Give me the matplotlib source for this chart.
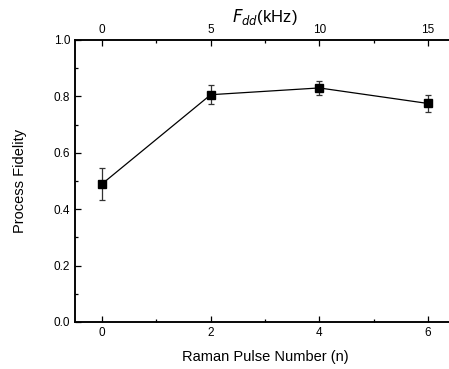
import matplotlib
matplotlib.use("Agg")
import matplotlib.pyplot as plt
from matplotlib.ticker import MultipleLocator

plt.rcParams['font.family'] = ['Liberation Sans', 'DejaVu Sans']

pulse_number = [0, 2, 4, 6]
fidelity = [0.49, 0.806, 0.83, 0.775]
fidelity_err = [0.056, 0.034, 0.026, 0.030]
top_ticks = [0, 5, 10, 15]

fig = plt.figure(figsize=(4.49, 3.69), dpi=100)
ax = fig.add_axes([75/449, 1-322/369, (455-75)/449, (322-40)/369])

ax.errorbar(pulse_number, fidelity, yerr=fidelity_err, color='black', lw=0.9,
            marker='s', ms=5.5, capsize=2.5, elinewidth=0.9, capthick=0.9,
            ecolor='#333333')

ax.set_xlim(-0.5, 6.5)
ax.set_ylim(0.0, 1.0)
ax.xaxis.set_major_locator(MultipleLocator(2))
ax.xaxis.set_minor_locator(MultipleLocator(1))
ax.yaxis.set_major_locator(MultipleLocator(0.2))
ax.yaxis.set_minor_locator(MultipleLocator(0.1))
ax.yaxis.set_major_formatter(plt.FuncFormatter(lambda v, p: f"{v:.1f}"))
ax.tick_params(which='both', direction='in', labelsize=8.5, width=0.9)
ax.tick_params(which='major', length=4)
ax.tick_params(which='minor', length=2.5)
for s in ax.spines.values():
    s.set_linewidth(1.1)

ax.set_xlabel('Raman Pulse Number (n)', fontsize=10.5, labelpad=8)
ax.set_ylabel('Process Fidelity', fontsize=10.5, labelpad=19)

ax2 = ax.twiny()
ax2.set_xlim(-0.5*2.5, 6.5*2.5)
ax2.set_xticks(top_ticks)
ax2.xaxis.set_minor_locator(MultipleLocator(2.5))
ax2.tick_params(which='both', direction='in', labelsize=8.5, width=0.9, pad=3)
ax2.tick_params(which='major', length=4)
ax2.tick_params(which='minor', length=2.5)
ax2.set_xlabel(r'$\mathit{F_{dd}}$(kHz)', fontsize=12, labelpad=1)
for s in ax2.spines.values():
    s.set_linewidth(1.1)

fig.savefig('out.png', dpi=100)
